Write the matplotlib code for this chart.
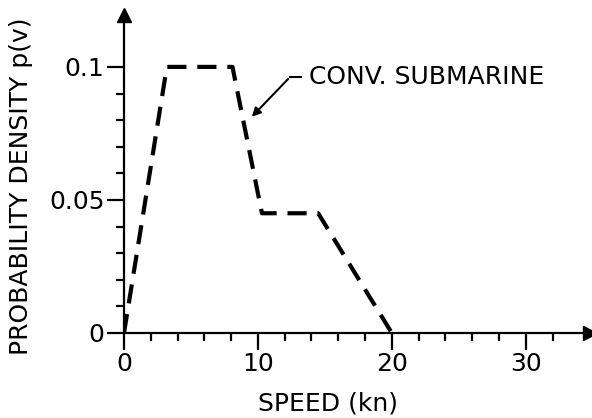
import matplotlib
matplotlib.use("Agg")
import matplotlib.pyplot as plt
from matplotlib.ticker import FixedLocator

speed = [0, 3.2, 8.1, 10.3, 14.5, 20]
density = [0, 0.1, 0.1, 0.045, 0.045, 0]
x_ticks = [0, 10, 20, 30]
x_minor = [2, 4, 6, 8, 12, 14, 16, 18, 22, 24, 26, 28, 32]
y_ticks = [0, 0.05, 0.1]
y_minor = [0.01, 0.02, 0.03, 0.04, 0.06, 0.07, 0.08, 0.09]
y_tick_labels = ["0", "0.05", "0.1"]

plt.rcParams['font.family'] = ['DejaVu Sans']

fig = plt.figure(figsize=(5.92, 4.18), dpi=100)
ax = fig.add_axes([124 / 592, 85 / 418, (590 - 124) / 592, (333 - 15) / 418])

ax.plot(speed, density, color='black', lw=3.0, ls=(0, (4.6, 2.6)),
        solid_capstyle='butt', dash_capstyle='butt')

ax.set_xlim(0, 34.8)
ax.set_ylim(0, 0.1195)

for s in ['top', 'right']:
    ax.spines[s].set_visible(False)
for s in ['left', 'bottom']:
    ax.spines[s].set_linewidth(1.6)

# arrow heads on the axes
ax.plot(1, 0, '>k', ms=10, transform=ax.transAxes, clip_on=False)
ax.plot(0, 1, '^k', ms=10, transform=ax.transAxes, clip_on=False)

ax.set_xticks(x_ticks)
ax.set_yticks(y_ticks)
ax.set_yticklabels(y_tick_labels)
ax.xaxis.set_minor_locator(FixedLocator(x_minor))
ax.yaxis.set_minor_locator(FixedLocator(y_minor))
ax.tick_params(which='major', length=12, width=1.6, labelsize=18, pad=2)
ax.tick_params(which='minor', length=6, width=1.6)

ax.set_xlabel('SPEED (kn)', fontsize=18)
ax.xaxis.set_label_coords(15.2 / 34.8, -0.185)
ax.set_ylabel('PROBABILITY DENSITY p(v)', fontsize=18)
ax.yaxis.set_label_coords(-0.195, 0.462)

ax.annotate('', xy=(9.4, 0.0805), xytext=(12.4, 0.0962),
            arrowprops=dict(arrowstyle='-|>', color='black', lw=1.5,
                            mutation_scale=13))
ax.plot([12.4, 13.2], [0.0962, 0.0962], color='black', lw=1.5)
ax.text(13.8, 0.0962, 'CONV. SUBMARINE', fontsize=18, va='center', ha='left')

fig.savefig('out.png', dpi=100)
